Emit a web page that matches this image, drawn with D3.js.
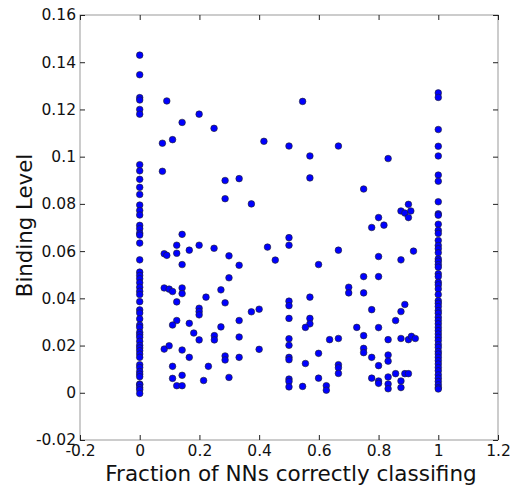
<!DOCTYPE html>
<html><head><meta charset="utf-8">
<script src="https://d3js.org/d3.v7.min.js"></script>
<style>body{margin:0;background:#fff}svg{display:block}text{font-family:"DejaVu Sans",sans-serif;fill:#111}</style>
</head><body><svg id="c" width="514" height="487"></svg>
<script>
const xTicks = [-0.2, 0, 0.2, 0.4, 0.6, 0.8, 1, 1.2];
const xTickLabels = ["-0.2", "0", "0.2", "0.4", "0.6", "0.8", "1", "1.2"];
const yTicks = [-0.02, 0, 0.02, 0.04, 0.06, 0.08, 0.1, 0.12, 0.14, 0.16];
const yTickLabels = ["-0.02", "0", "0.02", "0.04", "0.06", "0.08", "0.1", "0.12", "0.14", "0.16"];
const xLabel = "Fraction of NNs correctly classifing";
const yLabel = "Binding Level";

// column x = 0
const col0 = [0.143,0.1347,0.125,0.124,0.120,0.118,0.0966,0.094,0.0904,0.087,0.084,0.0795,0.0772,0.0753,
 0.0709,0.0695,0.0676,0.0668,0.0634,0.0563,0.0511,0.0497,0.0483,0.0466,0.0447,0.0430,0.0416,0.0386,0.0351,
 0.0338,0.0313,0.0287,0.0277,0.0256,0.0246,0.0235,0.0218,0.0201,0.0190,0.0178,0.0164,0.0150,0.0119,0.0107,
 0.0090,0.0079,0.0068,0.0037,0.0034,0.0022,0.0013,-0.0003];
// column x = 1
const col1 = [0.127,0.1251,0.1115,0.1044,0.1003,0.0922,0.0896,0.0809,0.0758,0.0752,0.0714,0.0688,0.0675,0.0645,
 0.0624,0.0610,0.0593,0.0567,0.0557,0.0543,0.0532,0.0504,0.0492,0.0468,0.0457,0.0440,0.0416,0.0390,0.0379,
 0.0365,0.0348,0.0337,0.0320,0.0306,0.0292,0.0277,0.0263,0.0249,0.0235,0.0221,0.0204,0.0192,0.0175,0.0164,
 0.0150,0.0136,0.0122,0.0107,0.0093,0.0076,0.0062,0.0048,0.0034,0.0022,0.0016];
// column x = 0.5
const col05 = [0.1045,0.0657,0.0625,0.0388,0.0369,0.0315,0.0229,0.0201,0.0150,0.0140,0.0058,0.0048,0.0025];
// scattered points [x, y]
const others = [
 [0.0907,0.1236],[0.199,0.118],[0.142,0.1145],[0.249,0.112],[0.110,0.1072],[0.076,0.1057],[0.416,0.1065],
 [0.076,0.0938],[0.286,0.0899],[0.333,0.0907],[0.286,0.0822],[0.374,0.080],
 [0.142,0.0671],[0.124,0.0625],[0.199,0.0625],[0.082,0.0589],[0.0907,0.0582],[0.124,0.0591],[0.166,0.0604],
 [0.249,0.0612],[0.299,0.0580],[0.142,0.0543],[0.333,0.054],[0.428,0.0617],[0.454,0.0562],[0.299,0.0487],
 [0.082,0.0444],[0.0985,0.0439],[0.110,0.0429],[0.142,0.0444],[0.142,0.042],[0.272,0.0436],[0.222,0.0405],
 [0.124,0.0385],[0.286,0.0381],[0.199,0.0358],[0.199,0.0344],[0.199,0.033],[0.374,0.0343],[0.4,0.0354],
 [0.124,0.0306],[0.110,0.0287],[0.166,0.0294],[0.333,0.0306],[0.272,0.0279],[0.181,0.0253],[0.199,0.0224],
 [0.250,0.0242],[0.250,0.0224],[0.333,0.0236],[0.082,0.0185],[0.0985,0.0199],[0.142,0.0181],[0.166,0.015],
 [0.286,0.0156],[0.286,0.0139],[0.333,0.015],[0.4,0.0184],[0.110,0.0112],[0.230,0.0112],[0.110,0.0061],
 [0.142,0.0074],[0.214,0.0052],[0.299,0.0065],[0.124,0.003],[0.142,0.003],
 [0.5456,0.1234],[0.6655,0.1045],[0.570,0.1003],[0.832,0.0992],[0.570,0.091],[0.750,0.0863],[0.9,0.0798],
 [0.875,0.077],[0.888,0.0761],[0.908,0.077],[0.900,0.0742],[0.800,0.0742],[0.777,0.070],[0.818,0.071],
 [0.6655,0.0604],[0.599,0.0543],[0.917,0.06],[0.800,0.0577],[0.875,0.0563],[0.750,0.0492],[0.800,0.0492],
 [0.700,0.0447],[0.700,0.0423],[0.750,0.0423],[0.570,0.0405],[0.777,0.0352],[0.888,0.0374],[0.875,0.0344],
 [0.857,0.0306],[0.570,0.0315],[0.570,0.0292],[0.555,0.0277],[0.727,0.0277],[0.8,0.0276],[0.75,0.0242],
 [0.636,0.0225],[0.6655,0.023],[0.832,0.0225],[0.875,0.023],[0.9,0.0225],[0.91,0.0239],[0.923,0.023],
 [0.599,0.0167],[0.75,0.0188],[0.75,0.017],[0.777,0.015],[0.832,0.016],[0.832,0.0134],[0.555,0.0124],
 [0.6655,0.0119],[0.6655,0.0106],[0.6655,0.0082],[0.8,0.0115],[0.5456,0.0027],[0.599,0.0062],[0.625,0.003],
 [0.625,0.0011],[0.777,0.0062],[0.8,0.005],[0.8,0.004],[0.832,0.0067],[0.832,0.0037],[0.832,0.0017],
 [0.857,0.0081],[0.875,0.005],[0.875,0.0022],[0.888,0.0081],[0.9,0.0081]
];

const points = [
 ...col0.map(y => [0, y]),
 ...col1.map(y => [1, y]),
 ...col05.map(y => [0.5, y]),
 ...others
];

const L = 80, R = 498, T = 15, B = 440;
const svg = d3.select("#c");
const x = d3.scaleLinear().domain([-0.2, 1.2]).range([L, R]);
const y = d3.scaleLinear().domain([-0.02, 0.16]).range([B, T]);

// frame
svg.append("rect").attr("x", L).attr("y", T).attr("width", R - L).attr("height", B - T)
  .attr("fill", "none").attr("stroke", "#999").attr("stroke-width", 1);

const fmtX = (d, i) => xTickLabels[i];
const fmtY = (d, i) => yTickLabels[i];

const gx = svg.append("g").attr("transform", `translate(0,${B})`)
  .call(d3.axisBottom(x).tickValues(xTicks).tickFormat(fmtX).tickSizeInner(-5).tickSizeOuter(0).tickPadding(5));
const gxt = svg.append("g").attr("transform", `translate(0,${T})`)
  .call(d3.axisTop(x).tickValues(xTicks).tickFormat("").tickSizeInner(-5).tickSizeOuter(0));
const gy = svg.append("g").attr("transform", `translate(${L},0)`)
  .call(d3.axisLeft(y).tickValues(yTicks).tickFormat(fmtY).tickSizeInner(-5).tickSizeOuter(0).tickPadding(4));
const gyr = svg.append("g").attr("transform", `translate(${R},0)`)
  .call(d3.axisRight(y).tickValues(yTicks).tickFormat("").tickSizeInner(-5).tickSizeOuter(0));

[gx, gxt, gy, gyr].forEach(g => {
  g.select(".domain").remove();
  g.selectAll(".tick line").attr("stroke", "#222");
  g.selectAll("text").attr("font-size", 15.5).attr("fill", "#111").attr("font-family", "DejaVu Sans");
});

// points
svg.append("g").selectAll("circle").data(points).join("circle")
  .attr("cx", d => x(d[0])).attr("cy", d => y(d[1])).attr("r", 3.3)
  .attr("fill", "#0000ff").attr("stroke", "#222").attr("stroke-width", 0.6);

svg.append("text").attr("x", (L + R) / 2 + 2).attr("y", 481).attr("text-anchor", "middle")
  .attr("font-size", 21.5).text(xLabel);
svg.append("text").attr("transform", `translate(32,${(T + B) / 2 - 2}) rotate(-90)`).attr("text-anchor", "middle")
  .attr("font-size", 21.3).text(yLabel);
</script></body></html>
